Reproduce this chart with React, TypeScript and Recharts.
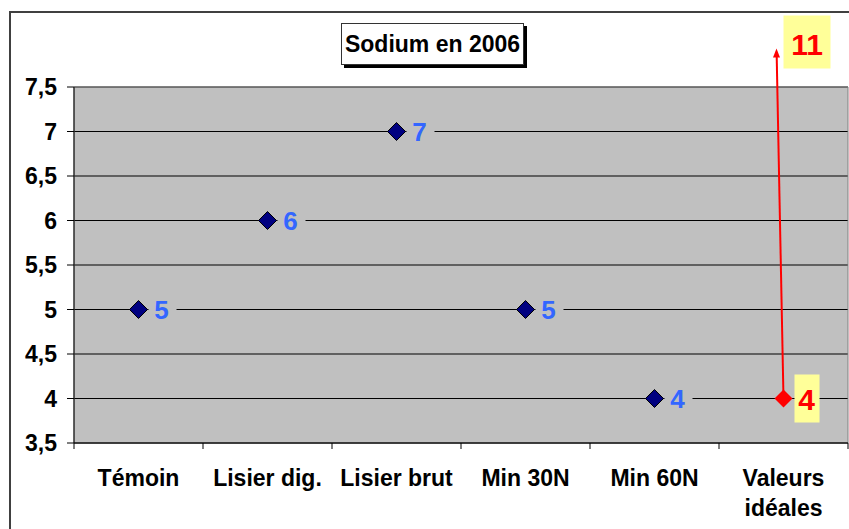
import React from 'react';
import { ComposedChart, Line, XAxis, YAxis, CartesianGrid, ReferenceArea } from 'recharts';

const categories = ['Témoin', 'Lisier dig.', 'Lisier brut', 'Min 30N', 'Min 60N', 'Valeurs idéales'];
const mesures: (number | null)[] = [5, 6, 7, 5, 4, null];
const idealLow: (number | null)[] = [null, null, null, null, null, 4];
const idealHigh: (number | null)[] = [null, null, null, null, null, 11];
const yTicks = [3.5, 4, 4.5, 5, 5.5, 6, 6.5, 7, 7.5];
const title = 'Sodium en 2006';

const data = categories.map((name, i) => ({
  name,
  mesure: mesures[i],
  ideal: idealLow[i],
  high: idealHigh[i],
}));

const FONT = '"Liberation Sans", Arial, sans-serif';
const BLUE = '#3366FF';

const diamond = (cx: number, cy: number, r: number) =>
  `M${cx},${cy - r} L${cx + r},${cy} L${cx},${cy + r} L${cx - r},${cy} Z`;

const BlueDot = (props: any) => {
  const { cx, cy, value, index } = props;
  if (cx == null || cy == null || value == null) return <g key={`b${index}`} />;
  return (
    <g key={`b${index}`}>
      <rect x={cx + 10} y={cy - 14} width={28} height={28} fill="#C0C0C0" />
      <path d={diamond(cx, cy, 9)} fill="#000080" stroke="#000" strokeWidth={1} />
      <text x={cx + 23} y={cy + 9.5} textAnchor="middle" fill={BLUE} fontFamily={FONT} fontWeight="bold" fontSize={26}>
        {String(value)}
      </text>
    </g>
  );
};

const RedDot = (props: any) => {
  const { cx, cy, value, index, payload } = props;
  if (cx == null || cy == null || value == null) return <g key={`r${index}`} />;
  const tipX = cx - 7;
  const tipY = cy - 350;
  return (
    <g key={`r${index}`}>
      <line x1={cx} y1={cy} x2={tipX + 0.2} y2={tipY + 8} stroke="#FF0000" strokeWidth={2} />
      <path d={`M${tipX},${tipY} L${tipX + 3.5},${tipY + 9} L${tipX - 3.5},${tipY + 9} Z`} fill="#FF0000" />
      <rect x={tipX + 7} y={tipY - 33} width={47} height={53} fill="#FFFF99" />
      <text x={tipX + 30.5} y={tipY + 6} textAnchor="middle" fill="#FF0000" fontFamily={FONT} fontWeight="bold" fontSize={30}>
        {String(payload.high)}
      </text>
      <path d={diamond(cx, cy, 9)} fill="#FF0000" />
      <rect x={cx + 11} y={cy - 24} width={25} height={48} fill="#FFFF99" />
      <text x={cx + 23} y={cy + 11} textAnchor="middle" fill="#FF0000" fontFamily={FONT} fontWeight="bold" fontSize={30}>
        {String(value)}
      </text>
    </g>
  );
};

const XTick = (props: any) => {
  const { x, y, payload, index, visibleTicksCount, width } = props;
  const off = payload.offset || (width / visibleTicksCount) / 2;
  const label: string = String(payload.value);
  const lines = label.length > 12 ? label.split(' ') : [label];
  const isLast = index === visibleTicksCount - 1;
  return (
    <g>
      <line x1={x - off} y1={y} x2={x - off} y2={y + 6} stroke="#000" />
      {isLast && <line x1={x + off} y1={y} x2={x + off} y2={y + 6} stroke="#000" />}
      <text textAnchor="middle" fill="#000" fontFamily={FONT} fontWeight="bold" fontSize={23}>
        {lines.map((l, i) => (
          <tspan key={i} x={x} y={y + 43 + i * 30}>
            {l}
          </tspan>
        ))}
      </text>
    </g>
  );
};

export default function App() {
  return (
    <div style={{ position: 'absolute', left: 0, top: 0, width: 849, height: 529, overflow: 'hidden', background: '#fff' }}>
      <div
        style={{
          position: 'absolute',
          left: 9,
          top: 11,
          width: 900,
          height: 600,
          borderLeft: '2px solid #404040',
          borderTop: '2px solid #404040',
        }}
      />
      <div style={{ position: 'absolute', left: 0, top: 0 }}>
        <ComposedChart width={849} height={529} data={data} margin={{ top: 87, right: 1, bottom: 0, left: 0 }}>
          <CartesianGrid vertical={false} stroke="#000" fill="#C0C0C0" fillOpacity={1} />
          <ReferenceArea y1={3.5} y2={7.5} fill="none" stroke="#808080" strokeWidth={1} ifOverflow="visible" />
          <XAxis
            dataKey="name"
            scale="band"
            interval={0}
            height={86}
            tickLine={false}
            tickSize={0}
            tickMargin={0}
            axisLine={{ stroke: '#000' }}
            tick={<XTick />}
          />
          <YAxis
            type="number"
            domain={[3.5, 7.5]}
            ticks={yTicks}
            width={74}
            tickSize={7}
            tickMargin={10}
            axisLine={{ stroke: '#000' }}
            tickLine={{ stroke: '#000' }}
            tickFormatter={(v: number) => String(v).replace('.', ',')}
            tick={{ fill: '#000', fontSize: 23, fontWeight: 'bold', fontFamily: FONT }}
          />
          <Line
            dataKey="mesure"
            stroke="none"
            isAnimationActive={false}
            dot={BlueDot}
            activeDot={false}
            legendType="none"
          />
          <Line
            dataKey="ideal"
            stroke="none"
            isAnimationActive={false}
            dot={RedDot}
            activeDot={false}
            legendType="none"
          />
        </ComposedChart>
      </div>
      <div
        style={{
          position: 'absolute',
          left: 341,
          top: 23,
          width: 181,
          height: 40,
          border: '1px solid #333',
          background: '#fff',
          boxShadow: '3px 3px 0 #000',
          fontFamily: FONT,
          fontWeight: 'bold',
          fontSize: 23,
          lineHeight: '40px',
          textAlign: 'center',
          color: '#000',
          whiteSpace: 'nowrap',
        }}
      >
        {title}
      </div>
    </div>
  );
}
